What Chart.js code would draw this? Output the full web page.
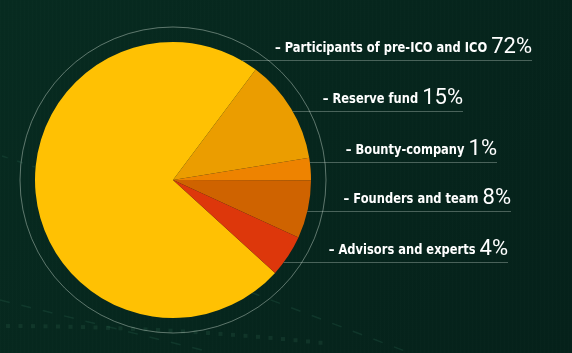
<!DOCTYPE html>
<html lang="en">
<head>
    <meta charset="UTF-8">
    <title>Token distribution</title>
    <style>
        html, body { margin: 0; padding: 0; background: #06271d; }
        #wrap { width: 572px; height: 353px; }
    </style>
</head>
<body>
    <div id="wrap"><canvas id="pie" width="572" height="353"></canvas></div>

    <script src="https://cdn.jsdelivr.net/npm/chart.js"></script>
    <script>
        // data
        const labels = ['Participants of pre-ICO and ICO', 'Reserve fund', 'Bounty-company', 'Founders and team', 'Advisors and experts'];
        const statedPercents = [72, 15, 1, 8, 4];          // numbers printed next to the names
        const sliceShares = [73.4, 12.2, 2.6, 6.8, 4.9];   // slice sizes as drawn
        const sliceColors = ['#ffc103', '#eb9d00', '#ee8300', '#cf6300', '#dd370b'];

        // where each label sits (right end of text, baseline)
        const labelRight = [532, 463, 497, 511, 508];
        const labelBaseline = [52, 103, 154, 203, 254];

        const bgPlugin = {
            id: 'bg',
            beforeDraw(chart) {
                const ctx = chart.ctx;
                const w = chart.width, h = chart.height;
                ctx.save();
                const g = ctx.createLinearGradient(0, 0, w, h);
                g.addColorStop(0, '#072b20');
                g.addColorStop(1, '#05211a');
                ctx.fillStyle = g;
                ctx.fillRect(0, 0, w, h);
                // faint vertical texture
                ctx.fillStyle = 'rgba(255,255,255,0.012)';
                for (let x = 0; x < w; x += 4) ctx.fillRect(x, 0, 1, h);
                // dotted row near bottom
                ctx.fillStyle = 'rgba(40,90,70,0.3)';
                for (let x = 6; x < 330; x += 12.5) {
                    const y = 324 + (x / 330) * (x / 330) * 18;
                    ctx.fillRect(x, y, 4, 4);
                }
                // dashed diagonal
                ctx.strokeStyle = 'rgba(40,95,75,0.3)';
                ctx.lineWidth = 1.5;
                ctx.setLineDash([10, 12]);
                ctx.beginPath();
                ctx.moveTo(0, 300);
                ctx.lineTo(210, 352);
                ctx.stroke();
                ctx.beginPath();
                ctx.moveTo(250, 292);
                ctx.lineTo(410, 353);
                ctx.stroke();
                ctx.setLineDash([6, 10]);
                ctx.beginPath();
                ctx.moveTo(2, 156);
                ctx.lineTo(35, 167);
                ctx.stroke();
                ctx.restore();
            }
        };

        const labelPlugin = {
            id: 'sideLabels',
            afterDraw(chart) {
                const ctx = chart.ctx;
                const arc = chart.getDatasetMeta(0).data[0];
                const cx = arc.x, cy = arc.y, r = arc.outerRadius;
                ctx.save();
                // outer ring
                ctx.strokeStyle = 'rgba(200,215,205,0.45)';
                ctx.lineWidth = 1;
                ctx.beginPath();
                ctx.arc(cx, cy, r + 15, 0, Math.PI * 2);
                ctx.stroke();

                labels.forEach((name, i) => {
                    const right = labelRight[i];
                    const base = labelBaseline[i];
                    const pct = statedPercents[i] + '%';
                    ctx.textBaseline = 'alphabetic';
                    ctx.textAlign = 'right';
                    ctx.fillStyle = '#ffffff';
                    ctx.font = '400 22px Roboto';
                    ctx.fillText(pct, right, base + 1);
                    const pw = ctx.measureText(pct).width;
                    // names are a narrow bold face, squeeze a little
                    ctx.save();
                    ctx.translate(right - pw - 4, base);
                    ctx.scale(0.88, 1);
                    ctx.font = 'bold 14.5px "DejaVu Sans Condensed"';
                    ctx.fillText('– ' + name, 0, 0);
                    ctx.restore();

                    // underline from pie edge to text end
                    const ly = labelBaseline[i] + 8.5;
                    const dy = ly - cy;
                    const startX = cx + Math.sqrt(Math.max(0, r * r - dy * dy));
                    ctx.strokeStyle = 'rgba(200,215,205,0.35)';
                    ctx.beginPath();
                    ctx.moveTo(startX, ly);
                    ctx.lineTo(right, ly);
                    ctx.stroke();
                });
                ctx.restore();
            }
        };

        new Chart(document.getElementById('pie'), {
            type: 'pie',
            data: {
                labels: labels,
                datasets: [{
                    data: sliceShares,
                    backgroundColor: sliceColors,
                    borderWidth: 0
                }]
            },
            options: {
                responsive: false,
                animation: false,
                rotation: 132.3,
                layout: { padding: { left: 35, top: 42, right: 261, bottom: 35 } },
                plugins: {
                    legend: { display: false },
                    tooltip: { enabled: false }
                }
            },
            plugins: [bgPlugin, labelPlugin]
        });
    </script>
</body>
</html>
